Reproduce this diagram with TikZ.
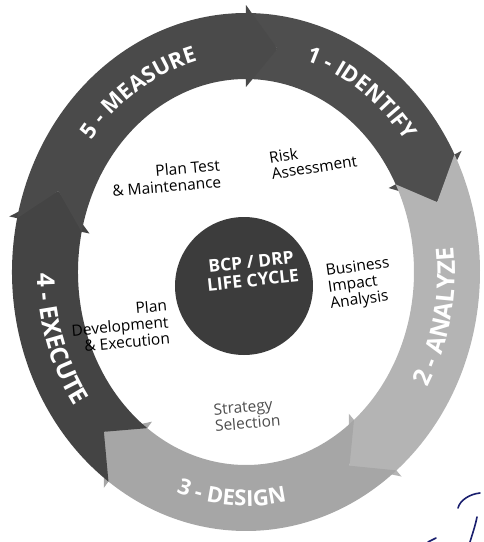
\documentclass[tikz,border=0pt]{standalone}
\usepackage{fontspec}
\setmainfont{Open Sans}
\usepackage{tikz}
\usetikzlibrary{decorations.text}

\definecolor{identifygray}{HTML}{4E4E4E}
\definecolor{analyzegray}{HTML}{B4B4B4}
\definecolor{designgray}{HTML}{A6A6A6}
\definecolor{executegray}{HTML}{444444}
\definecolor{measuregray}{HTML}{4A4A4A}
\definecolor{hubgray}{HTML}{3C3C3C}
\definecolor{ink}{HTML}{1A1F6E}

\newcommand\ringfont{\fontsize{22}{22}\selectfont\bfseries}
\newcommand\bigringfont{\fontsize{24.5}{24.5}\selectfont\bfseries}

\begin{document}
\begin{tikzpicture}[x=1pt,y=1pt,
  ringlabel/.style={decorate,decoration={text along path,text align=center,text color=white,text={#1}}},
  phase/.style={font=\fontsize{15.5}{16.5}\selectfont,inner sep=0pt}]
\useasboundingbox (-246,-270) rectangle (237,272);

% ring: five segments clockwise, each ending in a chevron head
\foreach \s/\e/\c in {90/27/identifygray, 27/-50/analyzegray, -50/-126/designgray, 234/168/executegray, 168/90/measuregray}
  \fill[\c] (\s:234 and 259) arc[start angle=\s,end angle=\e,x radius=234,y radius=259]
    -- (\e:242 and 267) -- ({\e-9}:201 and 226) -- (\e:160 and 185) -- (\e:168 and 193)
    arc[start angle=\e,end angle=\s,x radius=168,y radius=193]
    -- ({\s-9}:201 and 226) -- cycle;

% phase names along the ring
\path[ringlabel={|\ringfont|1 - IDENTIFY}] (88:197 and 222) arc[start angle=88,end angle=22,x radius=197,y radius=222];
\path[ringlabel={|\bigringfont|2 - ANALYZE}] (-47:209 and 234) arc[start angle=-47,end angle=23,x radius=209,y radius=234];
\path[ringlabel={|\ringfont|3 - DESIGN}] (-126:209 and 234) arc[start angle=-126,end angle=-62,x radius=209,y radius=234];
\path[ringlabel={|\bigringfont|4 - EXECUTE}] (166:209 and 234) arc[start angle=166,end angle=230,x radius=209,y radius=234];
\path[ringlabel={|\ringfont|5 - MEASURE}] (158:193 and 218) arc[start angle=158,end angle=88,x radius=193,y radius=218];

% hub
\node[circle,fill=hubgray,minimum size=138pt,inner sep=0pt] (hub) at (-2,-14) {};
\node[text=white,font=\fontsize{17.5}{18.5}\selectfont\bfseries,align=center,rotate=6] (hubtext) at (6,1) {BCP / DRP\\LIFE CYCLE};

% activities inside the ring
\node[phase,align=right,rotate=5] (test) at (-80,94) {Plan Test\\\& Maintenance};
\node[phase,align=left,rotate=9] (risk) at (67,113) {Risk\\Assessment};
\node[phase,align=left,rotate=8] (bia) at (114,-12) {Business\\Impact\\Analysis};
\node[phase,align=right,rotate=5] (dev) at (-126,-54) {Plan\\Development\\\& Execution};
\node[phase,align=left,rotate=5,text=black!70] (strategy) at (1,-143) {Strategy\\Selection};

% pen marks in the corner
\draw[ink,line width=1.6pt,line cap=round] (212,-236) .. controls (214,-228) and (224,-222) .. (234,-221);
\draw[ink,line width=1.6pt,line cap=round] (231,-245) .. controls (229,-255) and (226,-263) .. (224,-270);
\draw[ink,line width=1.6pt,line cap=round] (182,-270) -- (190,-266);
\end{tikzpicture}
\end{document}
